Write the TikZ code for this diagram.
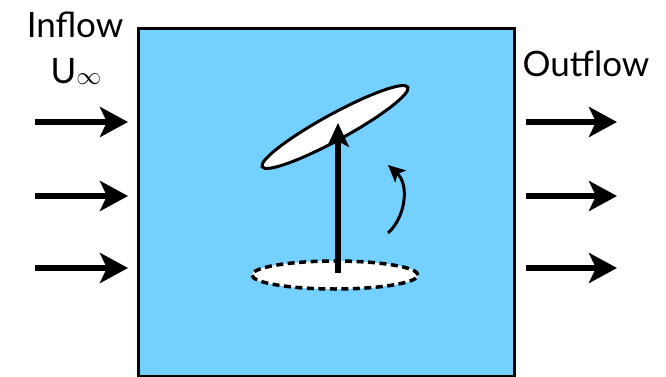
\documentclass[tikz,border=0pt]{standalone}
\usepackage{fontspec}
\setmainfont{Lato}
\usetikzlibrary{arrows.meta,shapes.geometric}
\definecolor{flowblue}{RGB}{115,208,255}
\tikzset{
  flowarrow/.style={line width=5.5pt,-{Stealth[length=28pt,width=30pt,inset=7pt]}},
  label/.style={inner sep=0pt,font=\fontsize{35}{40}\selectfont},
  disc/.style={ellipse,draw,fill=white,line width=3pt,inner sep=0pt},
}
\begin{document}
\begin{tikzpicture}[x=1pt,y=-1pt]
\useasboundingbox (0,0) rectangle (666,377);
\node[draw,fill=flowblue,line width=3pt,minimum width=376pt,minimum height=348pt,inner sep=0pt,anchor=north west] (box) at (137,27) {};
\node[label,anchor=base] (inflow) at (75,38) {Inflow};
\node[label,anchor=base] (uinf) at (76,84) {U\raisebox{-1pt}{\fontsize{24}{24}\selectfont$\infty$}};
\node[label,anchor=base] (outflow) at (586,77) {Outflow};
\foreach \i/\y in {1/122,2/196,3/268}{
  \coordinate (li\i) at (35,\y);
  \coordinate (lo\i) at (128,\y);
  \coordinate (ri\i) at (526,\y);
  \coordinate (ro\i) at (617,\y);
  \draw[flowarrow] (li\i) -- (lo\i);
  \draw[flowarrow] (ri\i) -- (ro\i);
}
\node[disc,dash pattern=on 7pt off 4.5pt,line width=3.5pt,minimum width=166pt,minimum height=28pt] (old) at (335,275) {};
\node[disc,rotate=28.7,minimum width=166pt,minimum height=26pt] (new) at (335,127) {};
\coordinate (stem) at (338,273);
\coordinate (tip) at (338,123);
\draw[line width=5.5pt,-{Stealth[length=24pt,width=22pt,inset=6pt]}] (stem) -- (tip);
\coordinate (ca) at (388,233);
\coordinate (cb) at (388,165);
\draw[line width=3pt,-{Stealth[length=17pt,width=16pt,inset=4pt]}] (ca) .. controls (405,218) and (410,185) .. (cb);
\end{tikzpicture}
\end{document}
